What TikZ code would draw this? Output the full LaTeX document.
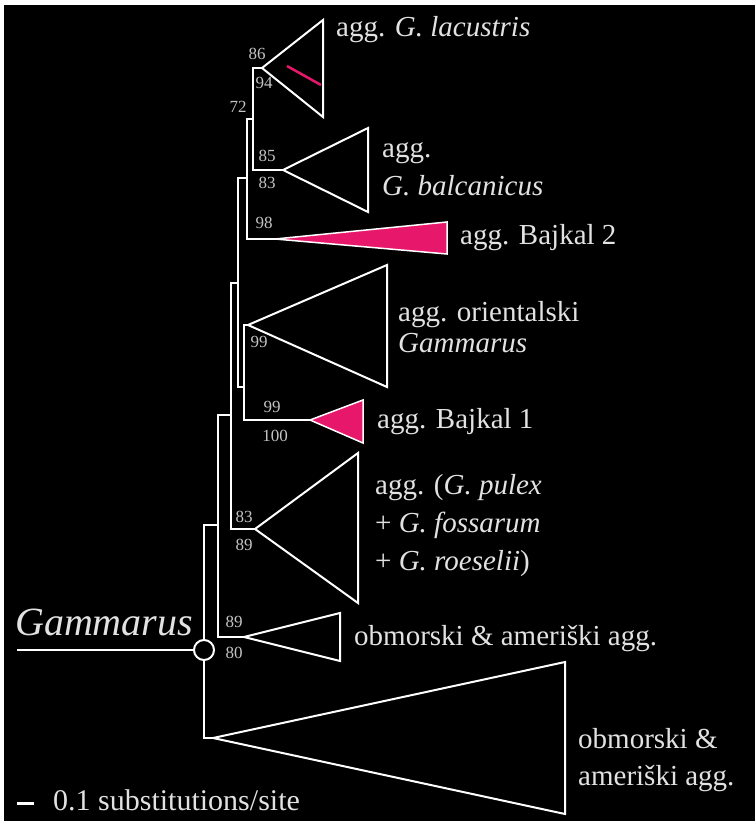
\documentclass[tikz,border=0pt]{standalone}
\usepackage{fontspec}
\setmainfont{Liberation Serif}
\usetikzlibrary{positioning,calc}
\definecolor{bajkal}{RGB}{231,24,108}
\definecolor{txt}{RGB}{226,226,226}
\definecolor{bsnum}{RGB}{196,196,196}

\begin{document}
\begin{tikzpicture}[
    x=1pt, y=-1pt,
    br/.style    = {draw=white, line width=2pt},
    clade/.style = {draw=white, line width=2pt, line join=miter},
    bs/.style    = {font=\fontsize{17}{17}\selectfont, text=bsnum, inner sep=0pt},
    lbl/.style   = {font=\fontsize{29}{35}\selectfont, text=txt, inner sep=0pt, anchor=base west},
]

%======== frame ========
\fill[white] (0,0) rectangle (755,821);
\fill[black] (4,5) rectangle (755,821);
\useasboundingbox (0,0) rectangle (755,821);

%======== clade apexes ========
\coordinate (tLac) at (262,68);
\coordinate (tBal) at (283,170);
\coordinate (tBk2) at (275,239);
\coordinate (tOri) at (248,325);
\coordinate (tBk1) at (310,420);
\coordinate (tPul) at (255,529);
\coordinate (tObm) at (244,637);
\coordinate (tObb) at (213,738);

%======== inner nodes ========
\coordinate (nA) at (253,119);
\coordinate (nB) at (247,178);
\coordinate (nC) at (238,283);
\coordinate (nE) at (244,387);
\coordinate (nD) at (231,415);
\coordinate (nF) at (218,525);
\coordinate (nR) at (204,650);
\coordinate (stem) at (17,650);

% --- branches
\draw[br] (tLac) -| (nA) |- (tBal);
\draw[br] (nA) -| (nB) |- (tBk2);
\draw[br] (tOri) -| (nE) |- (tBk1);
\draw[br] (nB) -| (nC) |- (nE);
\draw[br] (nC) -| (nD) |- (tPul);
\draw[br] (nD) -| (nF) |- (tObm);
\draw[br] (nF) -| (nR) |- (tObb);
\draw[br] (stem) -- (nR);
\node[circle, draw=white, fill=black, line width=2pt, minimum size=20pt,
      inner sep=0pt] (root) at (nR) {};

% --- collapsed clades
\foreach \a/\xr/\yt/\yb in {tLac/323/20/117, tBal/368/128/212, tOri/387/265/387,
    tPul/358/453/603, tObm/340/613/661, tObb/565/662/814}
  \draw[clade] (\a) -- (\xr,\yt) -- (\xr,\yb) -- cycle;
\foreach \a/\xr/\yt/\yb in {tBk2/447/222/254, tBk1/363/400/443}
  \draw[clade, fill=bajkal, line width=1.5pt] (\a) -- (\xr,\yt) -- (\xr,\yb) -- cycle;
\draw[bajkal, line width=2.5pt] (287,66) -- (321,85);

% --- bootstrap values
\foreach \x/\y/\t in {257/54/86, 264/83/94, 238/107/72, 267/156/85, 267/183/83,
    264/223/98, 259/342/99, 272/407/99, 275/436/100, 244/517/83, 244/545/89,
    234/622/89, 234/653/80}
  \node[bs] (bs-\x-\y) at (\x,\y) {\t};

%======== clade names ========
\node[lbl] (lLac)  at (336,37)  {agg. \textit{G. lacustris}};
\node[lbl] (lBal1) at (382,158) {agg.};
\node[lbl] (lBal2) at (382,196) {\textit{G. balcanicus}};
\node[lbl] (lBk2)  at (460,244) {agg. Bajkal 2};
\node[lbl] (lOri1) at (398,321) {agg. orientalski};
\node[lbl] (lOri2) at (398,352) {\textit{Gammarus}};
\node[lbl] (lBk1)  at (377,428) {agg. Bajkal 1};
\node[lbl] (lPul1) at (375,494) {agg. (\textit{G. pulex}};
\node[lbl] (lPul2) at (375,532) {+ \textit{G. fossarum}};
\node[lbl] (lPul3) at (375,570) {+ \textit{G. roeselii})};
\node[lbl] (lObm)  at (354,645) {obmorski \& ameriški agg.};
\node[lbl] (lObb1) at (578,748) {obmorski \&};
\node[lbl] (lObb2) at (578,785) {ameriški agg.};
\node[lbl, font=\itshape\fontsize{40}{40}\selectfont] (lRoot) at (15,635) {Gammarus};

% --- scale bar
\draw[white, line width=3pt] (17,803) -- (34,803);
\node[lbl, font=\fontsize{30}{30}\selectfont] (lScale) at (53,810) {0.1 substitutions/site};

\end{tikzpicture}
\end{document}
